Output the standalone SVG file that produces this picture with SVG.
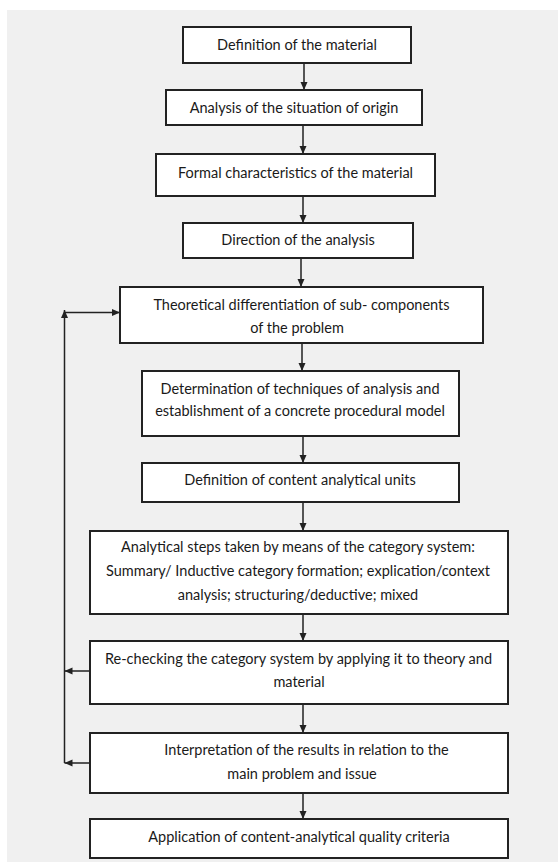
<svg xmlns="http://www.w3.org/2000/svg" width="558" height="863" viewBox="0 0 558 863">
<style>
.box{fill:#ffffff;stroke:#222222;stroke-width:2}
.t{font-family:Lato,"Liberation Sans",sans-serif;font-size:14.5px;fill:#1a1a1a;text-anchor:middle}
.c{fill:none;stroke:#222222;stroke-width:1.5}
</style>
<defs>
<marker id="ah" markerUnits="userSpaceOnUse" markerWidth="9" markerHeight="8" refX="8" refY="3.5" orient="auto">
<path d="M0,0 L8,3.5 L0,7 z" fill="#222222"/>
</marker>
</defs>
<rect x="0" y="0" width="558" height="863" fill="#ffffff"/>
<rect x="7" y="10" width="551" height="852" fill="#f0f0f0"/>
<g id="connectors">
<line class="c" x1="304" y1="63" x2="304" y2="90" marker-end="url(#ah)"/>
<line class="c" x1="303" y1="125" x2="303" y2="154" marker-end="url(#ah)"/>
<line class="c" x1="303" y1="196" x2="303" y2="223" marker-end="url(#ah)"/>
<line class="c" x1="301" y1="258" x2="301" y2="287" marker-end="url(#ah)"/>
<line class="c" x1="302" y1="343" x2="302" y2="371" marker-end="url(#ah)"/>
<line class="c" x1="303" y1="436" x2="303" y2="463" marker-end="url(#ah)"/>
<line class="c" x1="303" y1="502" x2="303" y2="531" marker-end="url(#ah)"/>
<line class="c" x1="303" y1="614" x2="303" y2="641" marker-end="url(#ah)"/>
<line class="c" x1="303" y1="704" x2="303" y2="733" marker-end="url(#ah)"/>
<line class="c" x1="303" y1="793" x2="303" y2="819" marker-end="url(#ah)"/>
<line class="c" x1="90" y1="671" x2="64.5" y2="671" marker-end="url(#ah)"/>
<line class="c" x1="90" y1="763" x2="64.5" y2="763" marker-end="url(#ah)"/>
<line class="c" x1="64.5" y1="763" x2="64.5" y2="310" marker-end="url(#ah)"/>
<line class="c" x1="64.5" y1="312.5" x2="120" y2="312.5" marker-end="url(#ah)"/>
</g>
<g id="n1"><rect class="box" x="183" y="27" width="228" height="36"/><text class="t" x="297" y="49.5">Definition of the material</text></g>
<g id="n2"><rect class="box" x="166" y="90" width="256" height="35"/><text class="t" x="294" y="113">Analysis of the situation of origin</text></g>
<g id="n3"><rect class="box" x="156" y="154" width="279" height="42"/><text class="t" x="295.5" y="177.5">Formal characteristics of the material</text></g>
<g id="n4"><rect class="box" x="183" y="223" width="230" height="35"/><text class="t" x="298" y="244.5">Direction of the analysis</text></g>
<g id="n5"><rect class="box" x="120" y="287" width="363" height="56"/><text class="t" x="301.5" y="309.5">Theoretical differentiation of sub- components</text><text class="t" x="297" y="332.5">of the problem</text></g>
<g id="n6"><rect class="box" x="142" y="371" width="317" height="65"/><text class="t" x="300" y="393.5">Determination of techniques of analysis and</text><text class="t" x="300" y="416">establishment of a concrete procedural model</text></g>
<g id="n7"><rect class="box" x="142" y="463" width="317" height="39"/><text class="t" x="300" y="485">Definition of content analytical units</text></g>
<g id="n8"><rect class="box" x="90" y="531" width="418" height="83"/><text class="t" x="298" y="552">Analytical steps taken by means of the category system:</text><text class="t" x="298" y="576">Summary/ Inductive category formation; explication/context</text><text class="t" x="298" y="599.5">analysis; structuring/deductive; mixed</text></g>
<g id="n9"><rect class="box" x="90" y="641" width="418" height="63"/><text class="t" x="298.5" y="663.5">Re-checking the category system by applying it to theory and</text><text class="t" x="299" y="687">material</text></g>
<g id="n10"><rect class="box" x="90" y="733" width="418" height="60"/><text class="t" x="306.5" y="754.5">Interpretation of the results in relation to the</text><text class="t" x="302" y="778.5">main problem and issue</text></g>
<g id="n11"><rect class="box" x="90" y="819" width="418" height="39"/><text class="t" x="299" y="842">Application of content-analytical quality criteria</text></g>
</svg>
